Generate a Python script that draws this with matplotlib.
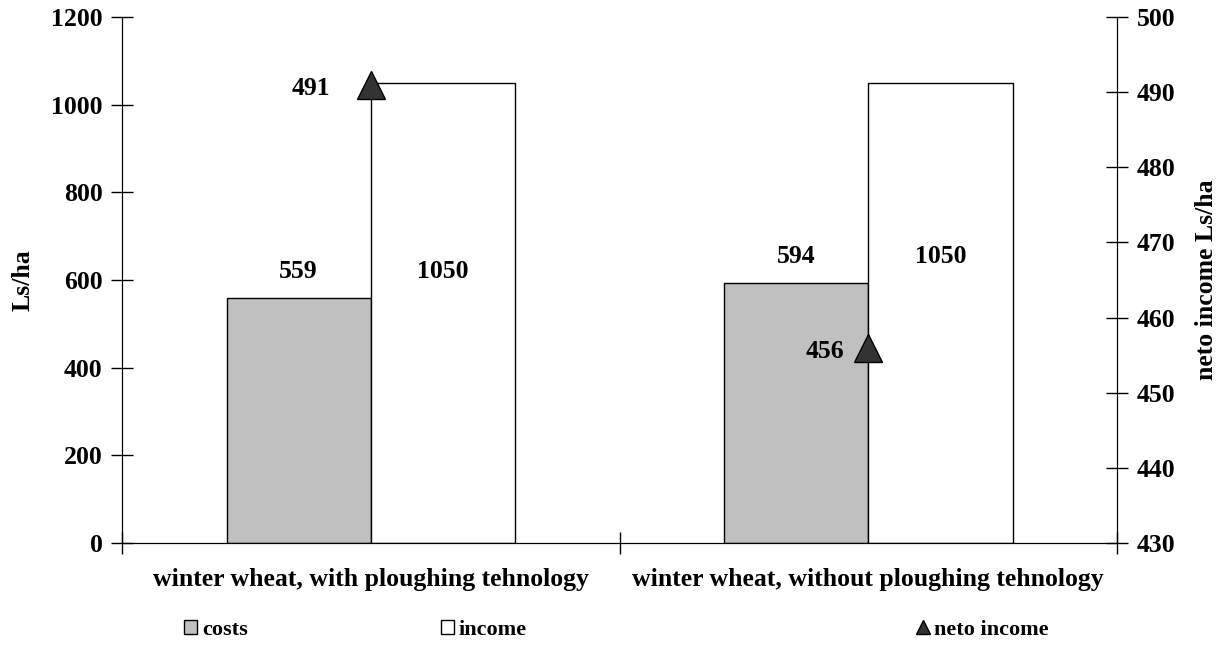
import matplotlib
matplotlib.use("Agg")
import matplotlib.pyplot as plt
from matplotlib.patches import Patch
from matplotlib.lines import Line2D

categories = ["winter wheat, with ploughing tehnology",
              "winter wheat, without ploughing tehnology"]
costs = [559, 594]
income = [1050, 1050]
neto_income = [491, 456]

plt.rcParams['font.family'] = ['Liberation Serif', 'DejaVu Serif']
plt.rcParams['font.weight'] = 'bold'
plt.rcParams['font.size'] = 18.5

fig = plt.figure(figsize=(12.24, 6.46), dpi=100)
ax = fig.add_axes([0.0997, 0.1594, 0.8129, 0.8143])

x = list(range(len(categories)))
w = 0.29
ax.bar([i - w / 2 for i in x], costs, width=w, color='#c0c0c0', edgecolor='black', linewidth=1)
ax.bar([i + w / 2 for i in x], income, width=w, color='white', edgecolor='black', linewidth=1)

ax.set_xlim(-0.5, 1.5)
ax.set_ylim(0, 1200)
ax.set_yticks(range(0, 1201, 200))
ax.set_xticks([-0.5, 0.5, 1.5])
ax.set_xticklabels([])
ax.set_xticks(x, minor=True)
ax.set_xticklabels(categories, minor=True)
ax.tick_params(axis='x', which='minor', length=0, pad=18)
ax.tick_params(axis='both', which='major', direction='inout', length=16, width=1)
ax.tick_params(axis='y', pad=6)
ax.spines['top'].set_visible(False)
ax.set_ylabel('Ls/ha', fontweight='bold', labelpad=12)

# costs labels above bars, income labels level with them
for i in x:
    ax.annotate(str(costs[i]), (i - w / 2, costs[i]), xytext=(0, 19),
                textcoords='offset points', ha='center', va='center')
    ax.annotate(str(income[i]), (i + w / 2, costs[i]), xytext=(0, 19),
                textcoords='offset points', ha='center', va='center')

ax2 = ax.twinx()
ax2.set_ylim(430, 500)
ax2.set_yticks(range(430, 501, 10))
ax2.tick_params(axis='y', direction='inout', length=16, width=1, pad=6)
ax2.spines['top'].set_visible(False)
ax2.plot(x, neto_income, linestyle='none', marker='^', markersize=19.5,
         markerfacecolor='#333333', markeredgecolor='black', clip_on=False)
label_dx = [-43, -31]
for i in x:
    ax2.annotate(str(neto_income[i]), (i, neto_income[i]), xytext=(label_dx[i], -3),
                 textcoords='offset points', ha='center', va='center')
ax2.set_ylabel('neto income Ls/ha', fontweight='bold', labelpad=14)

# legend entries spread along the bottom
leg_y = 0.025
fig.legend(handles=[Patch(facecolor='#c0c0c0', edgecolor='black', label='costs')],
           loc='center left', bbox_to_anchor=(0.134, leg_y), frameon=False,
           handlelength=0.6, handleheight=0.6, handletextpad=0.2, fontsize=16)
fig.legend(handles=[Patch(facecolor='white', edgecolor='black', label='income')],
           loc='center left', bbox_to_anchor=(0.344, leg_y), frameon=False,
           handlelength=0.6, handleheight=0.6, handletextpad=0.2, fontsize=16)
fig.legend(handles=[Line2D([], [], linestyle='none', marker='^', markersize=10,
                           markerfacecolor='#333333', markeredgecolor='black',
                           label='neto income')],
           loc='center left', bbox_to_anchor=(0.732, leg_y), frameon=False,
           handlelength=0.6, handletextpad=0.2, fontsize=16)

fig.savefig('out.png', dpi=100)
